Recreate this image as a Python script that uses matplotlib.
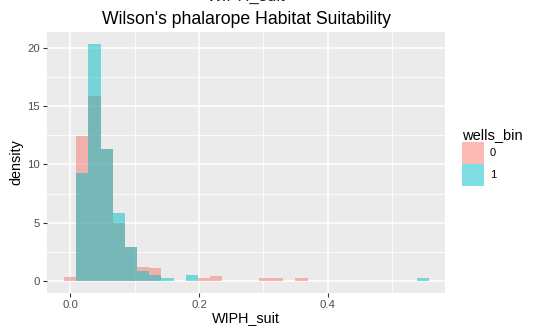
import matplotlib
matplotlib.use("Agg")
import matplotlib.pyplot as plt
from matplotlib.patches import Patch
import numpy as np

# histogram: 30 bins, centred on multiples of the bin width
BINWIDTH = 0.0189
bin_index = list(range(30))
density_0 = [0.32, 12.46, 15.83, 11.34, 4.97, 2.89, 1.17, 1.11, 0, 0,
             0, 0.27, 0.43, 0, 0, 0, 0.29, 0.29, 0, 0.29,
             0, 0, 0, 0, 0, 0, 0, 0, 0, 0]
density_1 = [0, 9.29, 20.34, 11.34, 5.83, 2.89, 0.83, 0.55, 0.29, 0,
             0.55, 0, 0, 0, 0, 0, 0, 0, 0, 0,
             0, 0, 0, 0, 0, 0, 0, 0, 0, 0.29]
groups = ["0", "1"]
colors = ["#F8766D", "#00BFC4"]

x_ticks = [0.0, 0.2, 0.4]
y_ticks = [0, 5, 10, 15, 20]

plt.rcParams["font.family"] = ["Liberation Sans", "DejaVu Sans"]

W, H = 535, 328
fig = plt.figure(figsize=(W / 100, H / 100), dpi=100)
ax = fig.add_axes([47 / W, (H - 293) / H, (445 - 47) / W, (293 - 32) / H])
ax.set_facecolor("#EBEBEB")

centers = np.array(bin_index) * BINWIDTH
for dens, col in zip([density_0, density_1], colors):
    d = np.array(dens)
    keep = d > 0
    ax.bar(centers[keep], d[keep], width=BINWIDTH, color=col, alpha=0.5,
           linewidth=0, zorder=3)

ax.set_xlim(-0.036, 0.582)
ax.set_ylim(-1.03, 21.35)
ax.set_xticks(x_ticks)
ax.set_xticklabels([f"{t:.1f}" for t in x_ticks])
ax.set_yticks(y_ticks)
ax.set_xticks([0.1, 0.3, 0.5], minor=True)
ax.set_yticks([2.5, 7.5, 12.5, 17.5], minor=True)
ax.grid(which="major", color="white", linewidth=1.1, zorder=1)
ax.grid(which="minor", color="white", linewidth=0.55, zorder=1)
ax.set_axisbelow(True)
for s in ax.spines.values():
    s.set_visible(False)
ax.tick_params(which="major", length=3, width=0.8, color="#333333",
               labelsize=8.2, labelcolor="#4D4D4D", pad=2)
ax.tick_params(which="minor", length=0)

ax.set_xlabel("WIPH_suit", fontsize=10.4, labelpad=1)
ax.set_ylabel("density", fontsize=10.4, labelpad=3)
ax.set_title("Wilson's phalarope Habitat Suitability", fontsize=12.7, pad=6)
# cut-off text at the very top of the source image
fig.text(246 / W, 1.0 + 4 / H, "WIPH_suit", ha="center", va="center",
         fontsize=12, color="#222222")

handles = [Patch(facecolor=c, alpha=0.5, edgecolor="none") for c in colors]
leg = fig.legend(handles, groups, title="wells_bin", loc="upper left",
                 bbox_to_anchor=(462 / W, 1 - 128 / H), frameon=False,
                 fontsize=8, title_fontsize=10.5, handlelength=2.0,
                 handleheight=2.67, handletextpad=0.5, labelspacing=0.0,
                 borderaxespad=0, borderpad=0)
leg._legend_box.align = "left"

fig.savefig("out.png", dpi=100)
